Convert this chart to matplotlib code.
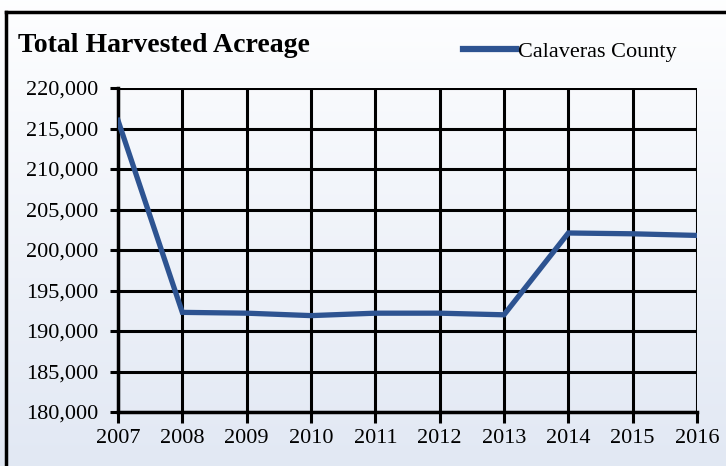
import matplotlib
matplotlib.use("Agg")
import matplotlib.pyplot as plt
import numpy as np
from matplotlib.ticker import FuncFormatter

years = [2007, 2008, 2009, 2010, 2011, 2012, 2013, 2014, 2015, 2016]
acreage = [216000, 192300, 192200, 191900, 192200, 192200, 192000, 202100, 202000, 201800]
series_name = "Calaveras County"
title = "Total Harvested Acreage"

plt.rcParams['font.family'] = ['Liberation Serif', 'DejaVu Serif']

W, H = 726, 466
fig = plt.figure(figsize=(W / 100, H / 100), dpi=100)

# background gradient
bg = fig.add_axes([0, 0, 1, 1], zorder=0)
grad = np.linspace(0, 1, 256).reshape(-1, 1)
top = np.array([0.995, 0.997, 1.0])
bot = np.array([0.885, 0.91, 0.955])
img = top[None, None, :] * (1 - grad[..., None]) + bot[None, None, :] * grad[..., None]
bg.imshow(img, aspect='auto', extent=[0, 1, 0, 1], origin='upper')
bg.set_xlim(0, 1)
bg.set_ylim(0, 1)
bg.axis('off')
# frame (left and top)
bg.plot([5.5 / W, 5.5 / W], [0, 1 - 11.5 / H], color='black', lw=2.5, solid_capstyle='projecting')
bg.plot([5.5 / W, 1], [1 - 11.5 / H, 1 - 11.5 / H], color='black', lw=2.5, solid_capstyle='projecting')

x0, x1 = 118, 697
y0, y1 = 412, 88
ax = fig.add_axes([x0 / W, 1 - y0 / H, (x1 - x0) / W, (y0 - y1) / H], zorder=1)
ax.patch.set_alpha(0)
ax.plot(years, acreage, color='#2d5391', lw=3.8, label=series_name, zorder=3,
        solid_joinstyle='miter')
ax.set_xlim(2007, 2016)
ax.set_ylim(180000, 220000)
ax.set_xticks(years)
ax.set_yticks(np.arange(180000, 220001, 5000))
ax.yaxis.set_major_formatter(FuncFormatter(lambda v, p: f"{int(v):,}"))
ax.grid(True, color='black', lw=2.2)
ax.set_axisbelow(True)
for s in ['top', 'right']:
    ax.spines[s].set_visible(False)
for s in ['left', 'bottom']:
    ax.spines[s].set_linewidth(2.5)
    ax.spines[s].set_color('black')
ax.tick_params(axis='both', length=6, width=2.2, labelsize=16, colors='black')
ax.tick_params(axis='y', pad=8)
ax.tick_params(axis='x', length=8, pad=4)

fig.text(18 / W, 1 - 52 / H, title, fontsize=20, fontweight='bold', ha='left', va='baseline')
leg = ax.legend(loc='upper left', bbox_to_anchor=(452 / W, 1 - 30 / H), bbox_transform=fig.transFigure,
                frameon=False, fontsize=16, handlelength=2.4, handletextpad=0.05, borderpad=0)
for h in leg.get_lines():
    h.set_linewidth(4.5)

fig.savefig("out.png", dpi=100)
